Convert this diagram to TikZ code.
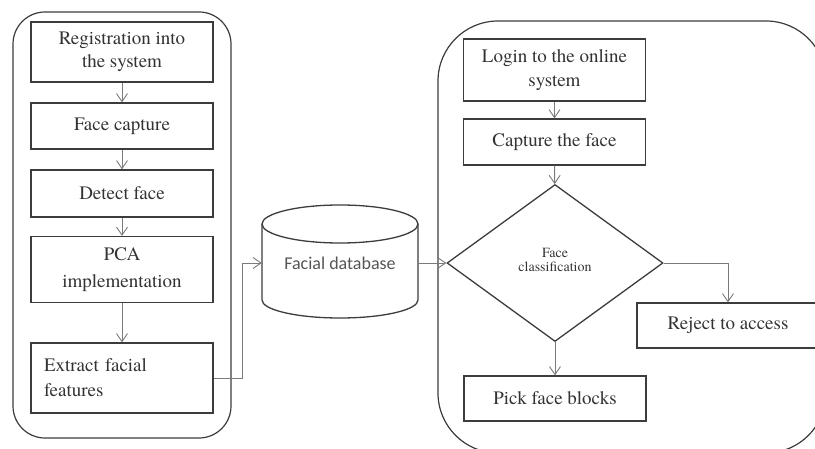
\documentclass[tikz,border=0pt]{standalone}
\usepackage{fontspec}
\newfontfamily\boxfont{TeX Gyre Termes}
\newfontfamily\dbfont{Carlito}
\usetikzlibrary{shapes.geometric,arrows.meta}
\definecolor{boxc}{HTML}{3C3C3C}
\definecolor{linec}{HTML}{7A7A7A}
\definecolor{txt}{HTML}{333333}
\definecolor{dbtxt}{HTML}{555555}
\begin{document}
\begin{tikzpicture}[x=1pt,y=-1pt,
  box/.style={draw=boxc, line width=1.3pt, rectangle, inner sep=0pt, text=txt,
    font=\boxfont\fontsize{19}{24}\selectfont, align=center, minimum width=182pt},
  arr/.style={draw=linec, line width=0.9pt, -{Straight Barb[length=8pt,width=11pt,line width=0.9pt]}},
  frame/.style={draw=boxc, line width=1.2pt}]
\useasboundingbox (0,0) rectangle (815,449);
\clip (0,0) rectangle (815,449);
% frames
\draw[frame, rounded corners=32pt] (13,12) rectangle (231,438);
\draw[frame, rounded corners=60pt] (438,21) rectangle (826,453);
% left column
\node[box, minimum height=60pt, font=\boxfont\fontsize{19}{23}\selectfont] (reg) at (122,52) {Registration into\\the system};
\node[box, minimum height=46pt] (fc) at (122,126) {Face capture};
\node[box, minimum height=47pt] (df) at (122,193.5) {Detect face};
\node[box, minimum height=66pt, font=\boxfont\fontsize{19}{27}\selectfont] (pca) at (122,269.5) {PCA\\implementation};
\node[box, minimum height=70pt, align=left, text width=156pt, inner xsep=13pt, minimum width=182pt,
  font=\boxfont\fontsize{19}{25}\selectfont] (ext) at (122,378) {Extract facial\\features};
% database
\node[inner sep=0pt, minimum width=156pt, minimum height=113pt, text=dbtxt,
  font=\dbfont\fontsize{18}{22}\selectfont] (db) at (340,263) {\raisebox{-3pt}{Facial database}};
\draw[boxc, line width=1.3pt] (340,224) ellipse [x radius=78pt, y radius=19pt];
\draw[boxc, line width=1.3pt] (262,224) -- (262,300) arc[start angle=180, end angle=360, x radius=78pt, y radius=18pt] -- (418,224);
% right column
\node[box, minimum height=62pt] (login) at (554.5,70) {Login to the online\\system};
\node[box, minimum height=46pt] (cap) at (554.5,142) {Capture the face};
\node[diamond, draw=boxc, line width=1.3pt, minimum width=216pt, minimum height=157pt, inner sep=0pt,
  text=txt, align=center, font=\boxfont\fontsize{14}{18}\selectfont] (cls) at (555,263) {\raisebox{6pt}{\shortstack{Face\\[2pt]classification}}};
\node[box, minimum height=45pt] (rej) at (728,325.5) {Reject to access};
\node[box, minimum height=45pt] (pick) at (555,398.5) {Pick face blocks};
% connectors
\draw[arr] (reg) -- (fc);
\draw[arr] (fc) -- (df);
\draw[arr] (df) -- (pca);
\draw[arr] (pca) -- (ext);
\draw[arr] (ext.east) -- ++(29,0) |- (db.west);
\draw[arr] (db.east) -- (cls.west);
\draw[arr] (login) -- (cap);
\draw[arr] (cap) -- (cls);
\draw[arr] (cls) -- (pick);
\draw[arr] (cls.east) -| (rej.north);
\end{tikzpicture}
\end{document}
